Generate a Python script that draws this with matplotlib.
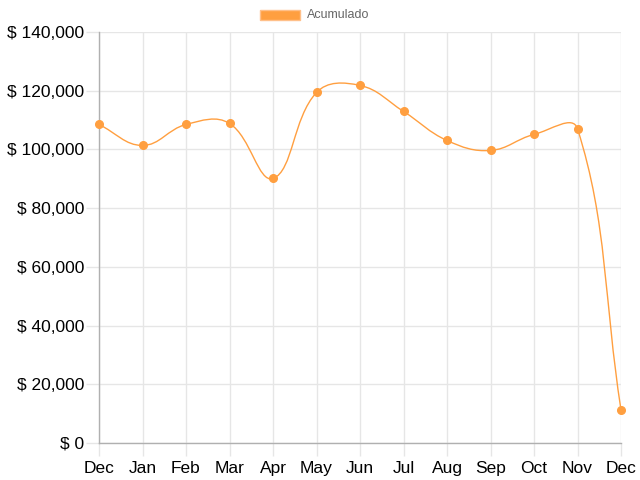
import numpy as np
import matplotlib.pyplot as plt
from matplotlib.path import Path
from matplotlib.patches import PathPatch, Rectangle

# datos
meses = ['Dec', 'Jan', 'Feb', 'Mar', 'Apr', 'May', 'Jun',
         'Jul', 'Aug', 'Sep', 'Oct', 'Nov', 'Dec']
acumulado = [108500, 101350, 108500, 108850, 90100, 119400, 121800,
             112950, 103050, 99650, 105100, 107050, 11300]

naranja = '#ff9f40'
plt.rcParams['font.family'] = ['Liberation Sans', 'DejaVu Sans']

fig = plt.figure(figsize=(6.4, 4.8), dpi=100)
ax = fig.add_axes([99/640, 37/480, 522/640, 411/480])
x = np.arange(len(meses))
ax.set_xlim(0, len(meses) - 1)
ax.set_ylim(0, 140000)

# curva tipo Chart.js (tension 0.4) calculada en pixeles
pts = ax.transData.transform(np.column_stack([x, acumulado]))
t = 0.4
verts = [pts[0]]
codes = [Path.MOVETO]
ctrl_prev = []
ctrl_next = []
for i in range(len(pts)):
    cur = pts[i]
    prev = pts[i - 1] if i > 0 else cur
    nxt = pts[i + 1] if i < len(pts) - 1 else cur
    d01 = np.hypot(*(cur - prev))
    d12 = np.hypot(*(nxt - cur))
    s = d01 + d12
    s01 = d01 / s if s else 0
    s12 = d12 / s if s else 0
    ctrl_prev.append(cur - t * s01 * (nxt - prev))
    ctrl_next.append(cur + t * s12 * (nxt - prev))
for i in range(1, len(pts)):
    verts += [ctrl_next[i - 1], ctrl_prev[i], pts[i]]
    codes += [Path.CURVE4] * 3
verts = ax.transData.inverted().transform(np.array(verts))
ax.add_patch(PathPatch(Path(verts, codes), facecolor='none',
                       edgecolor=naranja, lw=1, clip_on=False, zorder=3))
ax.plot(x, acumulado, 'o', color=naranja, ms=5.5, mec=naranja, clip_on=False, zorder=4)

# ejes y rejilla
ax.set_xticks(x)
ax.set_xticklabels(meses)
yt = np.arange(0, 140001, 20000)
ax.set_yticks(yt)
ax.set_yticklabels(['$ {:,}'.format(v) for v in yt])
ax.grid(True, color='#e6e6e6', lw=1)
ax.tick_params(axis='both', length=9.5, width=1, color='#e6e6e6',
               labelsize=12.5, labelcolor='#000000')
ax.tick_params(axis='y', pad=1)
ax.tick_params(axis='x', pad=3.5)
for lado in ['top', 'right']:
    ax.spines[lado].set_visible(False)
for lado in ['left', 'bottom']:
    ax.spines[lado].set_color('#b0b0b0')
    ax.spines[lado].set_linewidth(1)

# leyenda
fig.patches.append(Rectangle((260/640, 1 - 20/480), 40/640, 10/480,
                             transform=fig.transFigure, facecolor=naranja,
                             edgecolor='#ffc08a', lw=1))
fig.text(307/640, 1 - 15.5/480, 'Acumulado', fontsize=9, color='#666666', va='center')

fig.savefig('out.png', dpi=100)
